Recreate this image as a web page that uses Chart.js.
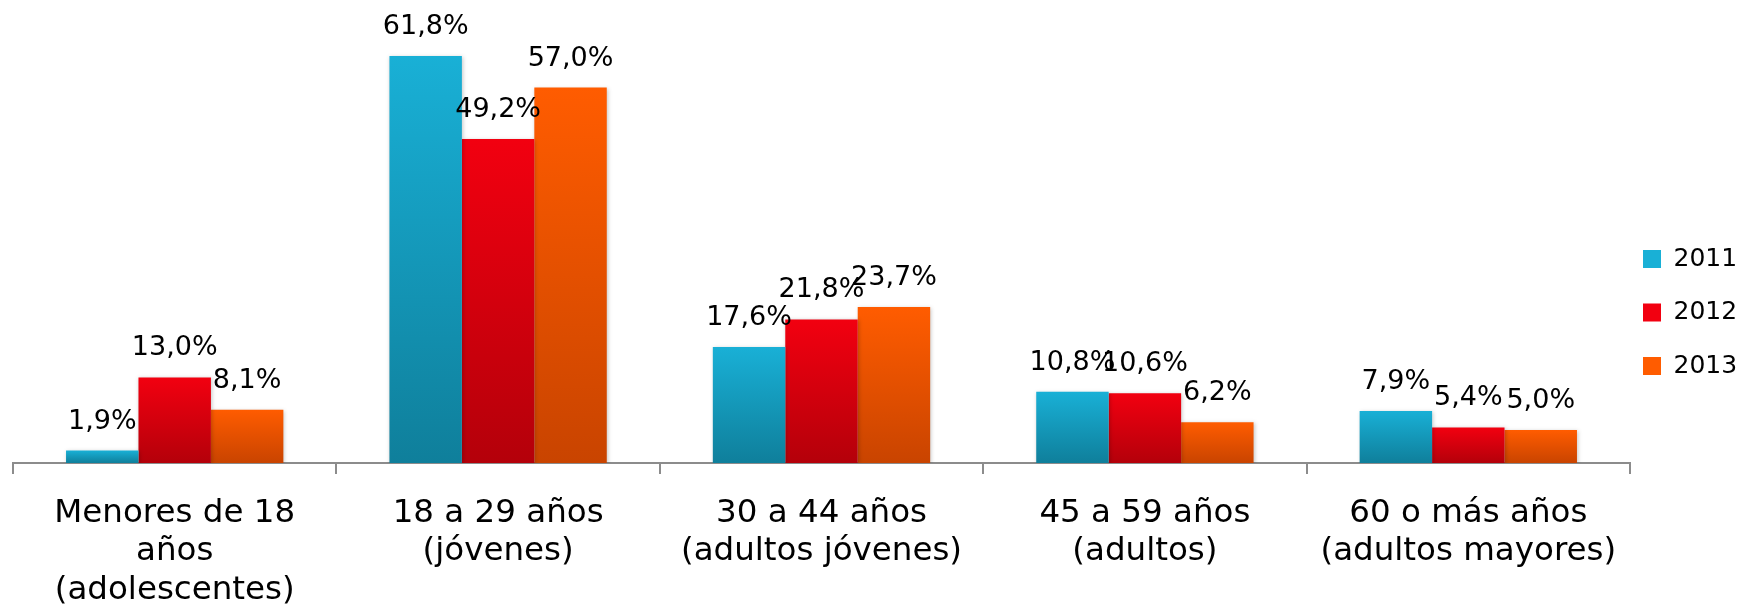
<!DOCTYPE html>
<html>
<head>
<meta charset="utf-8">
<script src="https://cdn.jsdelivr.net/npm/chart.js@4/dist/chart.umd.min.js"></script>
<style>
  html, body { margin: 0; padding: 0; background: #ffffff; overflow: hidden; }
  #wrap { width: 1742px; height: 610px; position: relative; overflow: hidden; }
  #wrap canvas { display: block; }
</style>
</head>
<body>
<div id="wrap"><canvas id="c"></canvas></div>
<script>
// ---- data ----
const categories = [
  ['Menores de 18', 'años', '(adolescentes)'],
  ['18 a 29 años', '(jóvenes)'],
  ['30 a 44 años', '(adultos jóvenes)'],
  ['45 a 59 años', '(adultos)'],
  ['60 o más años', '(adultos mayores)']
];
const seriesNames = ['2011', '2012', '2013'];
const values2011 = [1.9, 61.8, 17.6, 10.8, 7.9];
const values2012 = [13.0, 49.2, 21.8, 10.6, 5.4];
const values2013 = [8.1, 57.0, 23.7, 6.2, 5.0];
const yMin = 0;
const yMax = 70;

// ---- styles ----
const palette = [
  { solid: '#16a3c6', top: '#19b0d6', bottom: '#0f7f9b' },
  { solid: '#dc0010', top: '#f20010', bottom: '#b4000a' },
  { solid: '#ef5300', top: '#ff5c00', bottom: '#c94400' }
];
const FONT = '"DejaVu Sans", "Liberation Sans", sans-serif';

function barFill(i) {
  return (ctx) => {
    const chart = ctx.chart;
    if (ctx.type !== 'data' || !chart.chartArea || !chart.scales.y) return palette[i].solid;
    const y = chart.scales.y;
    const t = y.getPixelForValue(ctx.raw);
    const b = y.getPixelForValue(0);
    if (!isFinite(t) || !isFinite(b) || t === b) return palette[i].solid;
    const g = chart.ctx.createLinearGradient(0, t, 0, b);
    g.addColorStop(0, palette[i].top);
    g.addColorStop(1, palette[i].bottom);
    return g;
  };
}

const valueSets = [values2011, values2012, values2013];
const datasets = seriesNames.map((name, i) => ({
  label: name,
  data: valueSets[i],
  backgroundColor: barFill(i),
  borderWidth: 0,
  barPercentage: 1.0,
  categoryPercentage: 0.672
}));

const decorPlugin = {
  id: 'decor',
  afterLayout(chart) {
    const lg = chart.legend;
    if (lg) {
      lg.left -= 15.5;
      lg.top += 6.5; lg.bottom += 6.5;
    }
  },
  beforeDatasetsDraw(chart) {
    const c = chart.ctx;
    c.save();
    c.shadowColor = 'rgba(0,0,0,0.22)';
    c.shadowBlur = 4;
    c.shadowOffsetX = 1;
    c.shadowOffsetY = 1;
  },
  afterDatasetsDraw(chart) {
    const c = chart.ctx;
    c.restore();
    c.save();
    c.font = '27px ' + FONT;
    c.fillStyle = '#000000';
    c.textAlign = 'center';
    c.textBaseline = 'middle';
    chart.data.datasets.forEach((ds, di) => {
      const meta = chart.getDatasetMeta(di);
      meta.data.forEach((bar, j) => {
        const v = ds.data[j];
        const txt = v.toFixed(1).replace('.', ',') + '%';
        c.fillText(txt, bar.x, bar.y - 29);
      });
    });
    c.restore();
  }
};

new Chart(document.getElementById('c'), {
  type: 'bar',
  data: { labels: categories, datasets },
  options: {
    responsive: true,
    maintainAspectRatio: false,
    animation: false,
    layout: { padding: { top: 2, left: 13, right: 0, bottom: 0 } },
    plugins: {
      legend: {
        display: true,
        position: 'right',
        align: 'center',
        maxWidth: 112,
        labels: {
          boxWidth: 18,
          boxHeight: 18,
          padding: 28.5,
          color: '#000000',
          font: { family: FONT, size: 25 }
        }
      },
      tooltip: { enabled: false },
      title: { display: false }
    },
    scales: {
      x: {
        afterFit: (scale) => { scale.height = 147; },
        grid: {
          display: true,
          offset: true,
          drawOnChartArea: false,
          drawTicks: true,
          tickLength: 11,
          color: '#8c8c8c',
          lineWidth: 2
        },
        border: { display: true, color: '#8c8c8c', width: 2 },
        ticks: {
          autoSkip: false,
          maxRotation: 0,
          minRotation: 0,
          padding: 20,
          color: '#000000',
          font: { family: FONT, size: 32.5, lineHeight: 1.185 }
        }
      },
      y: {
        display: false,
        min: yMin,
        max: yMax,
        grid: { display: false }
      }
    }
  },
  plugins: [decorPlugin]
});
</script>
</body>
</html>
